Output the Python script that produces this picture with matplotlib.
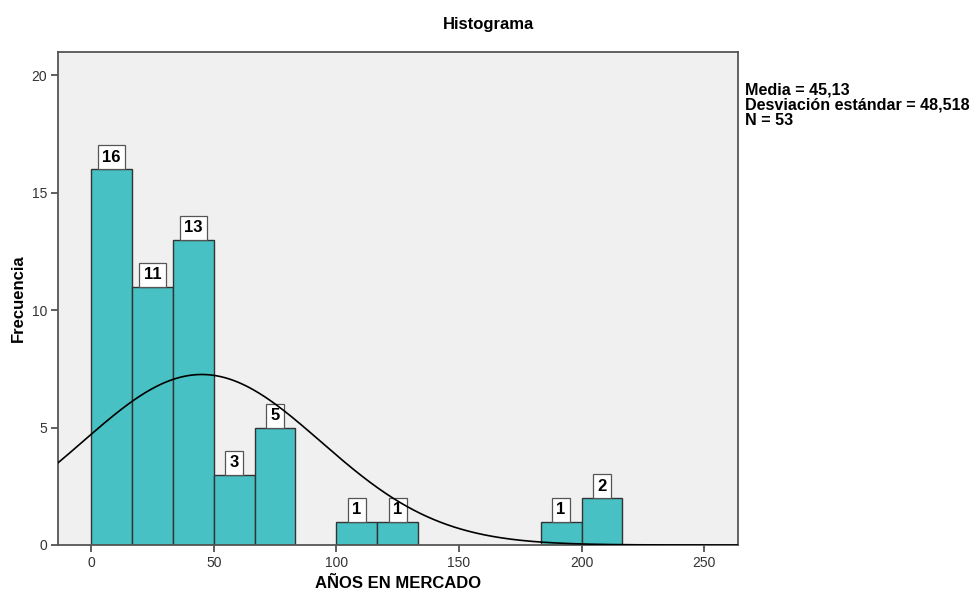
import numpy as np
import matplotlib
matplotlib.use("Agg")
import matplotlib.pyplot as plt
from matplotlib.font_manager import findfont, FontProperties

# Histogram of years in the market
bin_edges = [0, 50/3, 100/3, 50, 200/3, 250/3, 100, 350/3, 400/3, 150, 500/3, 550/3, 200, 650/3]
counts = [16, 11, 13, 3, 5, 0, 1, 1, 0, 0, 0, 1, 2]
media = 45.13
desviacion = 48.518
n_total = 53

x_ticks = [0, 50, 100, 150, 200, 250]
y_ticks = [0, 5, 10, 15, 20]

base_font = ["Liberation Sans", "DejaVu Sans"]
plt.rcParams["font.family"] = base_font
try:
    narrow = "Liberation Sans Narrow"
    findfont(FontProperties(family=narrow), fallback_to_default=False)
    tick_font = [narrow, "Liberation Sans"]
except Exception:
    tick_font = base_font

fig = plt.figure(figsize=(9.76, 5.94), dpi=100)
fig.patch.set_facecolor("white")
ax = fig.add_axes([58/976, 49/594, 680/976, 493/594])
ax.set_facecolor("#F0F0F0")

bar_color = "#48C1C4"
edge_color = "#333333"
lefts = np.array(bin_edges[:-1])
widths = np.diff(bin_edges)
for left, w, c in zip(lefts, widths, counts):
    if c <= 0:
        continue
    ax.bar(left, c, width=w, align="edge", color=bar_color,
           edgecolor=edge_color, linewidth=1.0, zorder=2)
    ax.annotate(str(c), xy=(left + w / 2, c), xytext=(0, 3.2),
                textcoords="offset points", ha="center", va="bottom",
                fontsize=12, fontweight="bold", color="black", zorder=3,
                bbox=dict(boxstyle="square,pad=0.27", facecolor="white",
                          edgecolor="#555555", linewidth=0.9))

# Normal curve scaled to the histogram counts
xlim = (-13.5, 263.8)
bw = bin_edges[1] - bin_edges[0]
xs = np.linspace(xlim[0], xlim[1], 600)
ys = n_total * bw / (desviacion * np.sqrt(2 * np.pi)) * np.exp(-0.5 * ((xs - media) / desviacion) ** 2)
ax.plot(xs, ys, color="black", linewidth=1.2, zorder=4)

ax.set_xlim(*xlim)
ax.set_ylim(0, 21.0)
ax.set_xticks(x_ticks)
ax.set_yticks(y_ticks)
for lab in ax.get_xticklabels() + ax.get_yticklabels():
    lab.set_family(tick_font)
    lab.set_fontsize(10)
    lab.set_color("#333333")
ax.tick_params(direction="out", length=5, width=1.2, color="#444444", pad=3)
for sp in ax.spines.values():
    sp.set_color("#555555")
    sp.set_linewidth(1.3)

ax.set_xlabel("AÑOS EN MERCADO", fontsize=12, fontweight="bold")
ax.xaxis.set_label_coords((398 - 58) / 680, -(583 - 545) / 493)
ax.xaxis.label.set_va("center")
ax.set_ylabel("Frecuencia", fontsize=12, fontweight="bold")
ax.yaxis.set_label_coords(-(58 - 18) / 680, (545 - 298) / 493)
ax.yaxis.label.set_va("center")
fig.text(488/976, 1 - 24/594, "Histograma", ha="center", va="center",
         fontsize=12, fontweight="bold")

stats_lines = [f"Media = {media:.2f}".replace(".", ","),
               f"Desviación estándar = {desviacion:.3f}".replace(".", ","),
               f"N = {n_total}"]
for i, line in enumerate(stats_lines):
    fig.text(745/976, 1 - (94 + 15.7 * i)/594, line, ha="left", va="baseline",
             fontsize=11.6, fontweight="bold")

fig.savefig("out.png", dpi=100, facecolor=fig.get_facecolor())
